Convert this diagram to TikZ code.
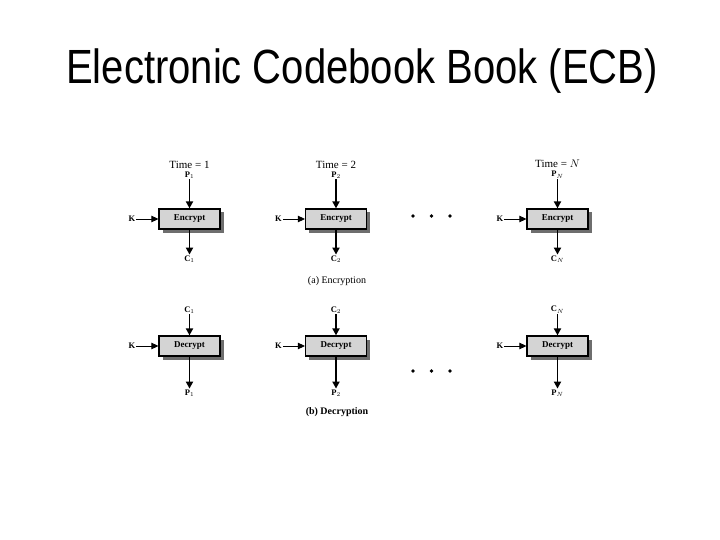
\documentclass[tikz,border=0pt]{standalone}
\usepackage{fontspec}
\setmainfont{Liberation Serif}
\newfontfamily\titlefont{Liberation Sans}
\usetikzlibrary{positioning,arrows.meta,shadows}
\definecolor{boxgray}{RGB}{212,212,212}
\definecolor{shadegray}{RGB}{110,110,110}
\begin{document}
\begin{tikzpicture}[x=1pt, y=-1pt,
    blk/.style = {draw, line width=1.2pt, fill=boxgray, minimum width=61pt, minimum height=20pt, inner sep=0pt,
                  font=\bfseries\fontsize{9}{9}\selectfont,
                  drop shadow={shadow xshift=3.5pt, shadow yshift=-3.5pt, fill=shadegray, opacity=1}},
    lbl/.style = {inner sep=1pt, font=\bfseries\fontsize{8.5}{8.5}\selectfont},
    tm/.style = {inner sep=1pt, font=\fontsize{11}{11}\selectfont},
    subcap/.style = {inner sep=1pt, font=\fontsize{10}{10}\selectfont},
    flow/.style = {line width=1.8pt, -{Triangle[length=7pt,width=7pt]}},
    key/.style = {line width=0.9pt, -{Triangle[length=7pt,width=6.5pt]}}]

    \useasboundingbox (0,0) rectangle (720,540);

    \node[anchor=base] (title) at (362,84) {\titlefont\fontsize{40}{40}\selectfont\scalebox{1}[1.2]{Electronic Codebook Book (ECB)}};

    % (a) encryption
    \node[blk] (e1) at (189.5,219) {Encrypt};
    \node[blk] (e2) at (336,219) {Encrypt};
    \node[blk] (eN) at (557.5,219) {Encrypt};

    \node[lbl, above=29pt of e1] (pe1) {P$_1$};
    \node[lbl, above=29pt of e2] (pe2) {P$_2$};
    \node[lbl, above=29pt of eN] (peN) {P$_N$};
    \node[tm, above=1pt of pe1] (t1) {Time = 1};
    \node[tm, above=1pt of pe2] (t2) {Time = 2};
    \node[tm, above=1pt of peN] (tN) {Time = $N$};

    \node[lbl, below=25pt of e1] (ce1) {C$_1$};
    \node[lbl, below=25pt of e2] (ce2) {C$_2$};
    \node[lbl, below=25pt of eN] (ceN) {C$_N$};

    \node[lbl, left=22pt of e1] (ke1) {K};
    \node[lbl, left=22pt of e2] (ke2) {K};
    \node[lbl, left=22pt of eN] (keN) {K};

    \foreach \n in {1,2,N} {
        \draw[flow] (pe\n) -- (e\n);
        \draw[flow] (e\n) -- (ce\n);
        \draw[key] (ke\n) -- (e\n);
    }
    \foreach \x in {413,431.5,450} \fill (\x,216) circle (1.8pt);

    \node[subcap] (enc) at (337,281) {(a) Encryption};

    % (b) decryption
    \node[blk] (d1) at (189.5,346) {Decrypt};
    \node[blk] (d2) at (336,346) {Decrypt};
    \node[blk] (dN) at (557.5,346) {Decrypt};

    \node[lbl, above=21pt of d1] (cd1) {C$_1$};
    \node[lbl, above=21pt of d2] (cd2) {C$_2$};
    \node[lbl, above=21pt of dN] (cdN) {C$_N$};

    \node[lbl, below=32pt of d1] (pd1) {P$_1$};
    \node[lbl, below=32pt of d2] (pd2) {P$_2$};
    \node[lbl, below=32pt of dN] (pdN) {P$_N$};

    \node[lbl, left=22pt of d1] (kd1) {K};
    \node[lbl, left=22pt of d2] (kd2) {K};
    \node[lbl, left=22pt of dN] (kdN) {K};

    \foreach \n in {1,2,N} {
        \draw[flow] (cd\n) -- (d\n);
        \draw[flow] (d\n) -- (pd\n);
        \draw[key] (kd\n) -- (d\n);
    }
    \foreach \x in {413,431.5,450} \fill (\x,371) circle (1.8pt);

    \node[subcap] (dec) at (337,412) {\bfseries(b) Decryption};

\end{tikzpicture}
\end{document}
